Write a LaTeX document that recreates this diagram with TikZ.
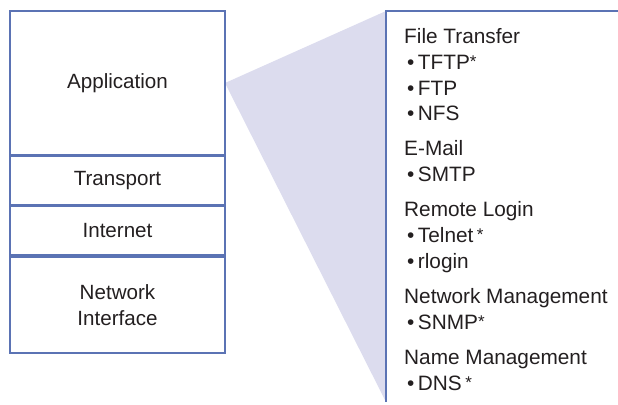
\documentclass[tikz,border=0pt]{standalone}
\usepackage{fontspec}
\setmainfont{Liberation Sans}
\definecolor{edgeblue}{HTML}{5B73B4}
\definecolor{lav}{HTML}{DCDCEE}
\definecolor{ink}{HTML}{231F20}
\newcommand{\myast}{\raisebox{2pt}{\fontsize{17}{17}\selectfont *}}
\tikzset{
  layer/.style={draw=edgeblue, line width=1.6pt, minimum width=215pt, inner sep=0pt,
    text=ink, align=center, font=\fontsize{20.6}{26}\selectfont},
  head/.style={anchor=base west, inner sep=0pt, text=ink, font=\fontsize{20.8}{25}\selectfont},
  item/.style={anchor=base west, inner sep=0pt, text=ink, font=\fontsize{20.8}{25}\selectfont},
}
\begin{document}
\begin{tikzpicture}[x=1pt,y=-1pt]
\useasboundingbox (0,0) rectangle (618,404);
% fan
\coordinate (fanL) at (225,83);
\coordinate (fanT) at (386,11);
\coordinate (fanB) at (386,402);
\coordinate (boxR) at (618,11);
\fill[lav] (fanL) -- (fanT) -- (fanB) -- cycle;
\draw[edgeblue, line width=1.6pt] (boxR) -- (fanT) -- (fanB);
% layers
\node[layer, minimum height=144pt] (app) at (117.5,83) {Application};
\node[layer, minimum height=48pt, anchor=north] (tra) at (app.south) {Transport};
\node[layer, minimum height=49pt, anchor=north] (int) at (tra.south) {Internet};
\node[layer, minimum height=96pt, anchor=north] (net) at (int.south) {Network\\Interface};
% list
\node[head] (h1) at (404,44) {File Transfer};
\node[item] (i1) at (407,70) {\textbullet\,TFTP\myast};
\node[item] (i2) at (407,95) {\textbullet\,FTP};
\node[item] (i3) at (407,120) {\textbullet\,NFS};
\node[head] (h2) at (404,155) {E-Mail};
\node[item] (i4) at (407,181) {\textbullet\,SMTP};
\node[head] (h3) at (404,216) {Remote Login};
\node[item] (i5) at (407,242) {\textbullet\,Telnet\,\myast};
\node[item] (i6) at (407,268) {\textbullet\,rlogin};
\node[head] (h4) at (404,303) {Network Management};
\node[item] (i7) at (407,329) {\textbullet\,SNMP\myast};
\node[head] (h5) at (404,364) {Name Management};
\node[item] (i8) at (407,390) {\textbullet\,DNS\,\myast};
\end{tikzpicture}
\end{document}
